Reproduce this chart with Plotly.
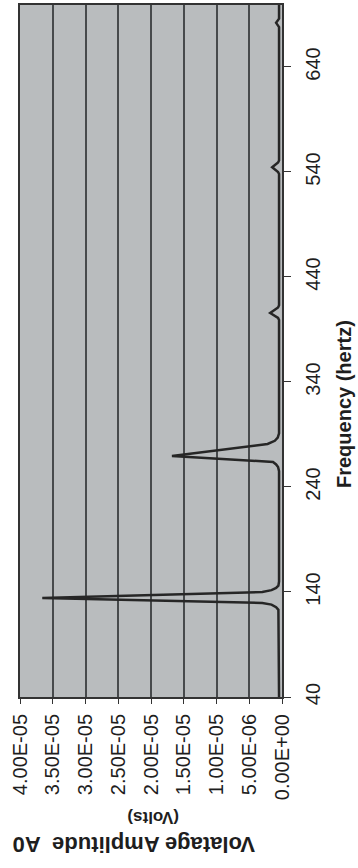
import plotly.graph_objects as go

# spectrum (frequency in Hz, amplitude in volts)
freq_hz = [40, 80, 119, 123, 125.5, 128, 129.5, 134.3, 140.0, 141.8, 143.8, 146, 150,
           200, 255, 259, 261.5, 263.8, 269.5, 281, 284, 287, 291,
           350, 399, 401, 405.7, 411, 413,
           480, 538, 540, 544.5, 549, 551,
           620, 678, 682, 686, 699]
volts = [4.5e-7, 4.5e-7, 4.5e-7, 5.5e-7, 9e-7, 1.6e-6, 3.0e-6, 3.66e-5, 3.0e-6, 1.6e-6, 9e-7, 5.5e-7, 4.5e-7,
         4.5e-7, 4.5e-7, 6e-7, 9e-7, 1.37e-6, 1.68e-5, 2.2e-6, 1.1e-6, 6.5e-7, 4.5e-7,
         4.5e-7, 4.5e-7, 6e-7, 1.8e-6, 6e-7, 4.5e-7,
         4.5e-7, 4.5e-7, 6e-7, 1.5e-6, 6e-7, 4.5e-7,
         4.5e-7, 4.5e-7, 9e-7, 4.5e-7, 4.5e-7]

volt_ticks = [0, 5e-6, 1e-5, 1.5e-5, 2e-5, 2.5e-5, 3e-5, 3.5e-5, 4e-5]
volt_labels = ["0.00E+00", "5.00E-06", "1.00E-05", "1.50E-05", "2.00E-05",
               "2.50E-05", "3.00E-05", "3.50E-05", "4.00E-05"]
freq_ticks = [40, 140, 240, 340, 440, 540, 640]

FONT = "Liberation Sans, Arial, sans-serif"

fig = go.Figure(go.Scatter(
    x=volts, y=freq_hz, mode="lines",
    line=dict(color="#262626", width=2.5),
    hoverinfo="skip",
))

fig.update_layout(
    width=358, height=868,
    margin=dict(l=20, r=76, t=5, b=171, autoexpand=False),
    paper_bgcolor="white",
    plot_bgcolor="#b9bcbe",
    showlegend=False,
    font=dict(family=FONT, color="#1e1e1e"),
)

# chart is drawn turned a quarter turn: amplitude runs right-to-left along the bottom
fig.update_xaxes(
    range=[4e-5, 0], automargin=False,
    tickvals=volt_ticks, ticktext=volt_labels,
    tickangle=-90, tickfont=dict(size=20),
    ticks="outside", ticklen=5, tickcolor="#333",
    ticklabelstandoff=2,
    showgrid=True, gridcolor="#474a4c", gridwidth=1.5,
    showline=True, mirror=True, linecolor="#333", linewidth=2,
    zeroline=False,
)
fig.update_yaxes(
    range=[40, 699], side="right", automargin=False,
    tickvals=freq_ticks,
    tickangle=-90, tickfont=dict(size=20),
    ticks="outside", ticklen=7, tickcolor="#333",
    ticklabelstandoff=5,
    showgrid=False,
    showline=True, mirror=True, linecolor="#333", linewidth=2,
    zeroline=False,
)

fig.add_annotation(text="<b>(Volts)</b>", textangle=180, showarrow=False,
                   xref="paper", yref="paper", x=(153 - 20) / 262, y=-(818 - 697) / 692,
                   xanchor="center", yanchor="middle", font=dict(size=17))
fig.add_annotation(text="<b>Volatage Amplitude  A0</b>", textangle=180, showarrow=False,
                   xref="paper", yref="paper", x=(134 - 20) / 262, y=-(845 - 697) / 692,
                   xanchor="center", yanchor="middle", font=dict(size=22))
fig.add_annotation(text="<b>Frequency (hertz)</b>", textangle=-90, showarrow=False,
                   xref="paper", yref="paper", x=1 + (344 - 282) / 262, y=(697 - 404) / 692,
                   xanchor="center", yanchor="middle", font=dict(size=20))

# drop the page's default body margin so the figure sits at the window's corner
fig.write_html("out.html", config={"displayModeBar": False},
               post_script="document.body.style.margin='0';")
